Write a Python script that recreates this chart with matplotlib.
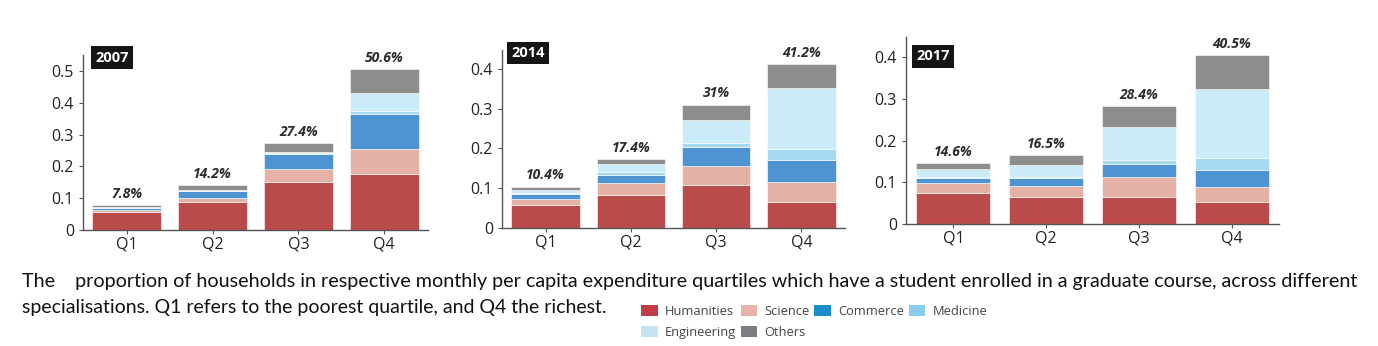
import numpy as np
import matplotlib
matplotlib.use("Agg")
import matplotlib.pyplot as plt
from matplotlib.patches import Patch

quartiles = ["Q1", "Q2", "Q3", "Q4"]
fields = ["Humanities", "Science", "Commerce", "Medicine", "Engineering", "Others"]

# share of households per quartile, split by specialisation
y2007_humanities = [0.057, 0.087, 0.150, 0.176]
y2007_science = [0.005, 0.015, 0.041, 0.079]
y2007_commerce = [0.006, 0.019, 0.047, 0.110]
y2007_medicine = [0.002, 0.002, 0.005, 0.010]
y2007_engineering = [0.002, 0.003, 0.002, 0.054]
y2007_others = [0.006, 0.016, 0.029, 0.077]
y2007_totals = [7.8, 14.2, 27.4, 50.6]

y2014_humanities = [0.057, 0.083, 0.107, 0.066]
y2014_science = [0.016, 0.030, 0.049, 0.049]
y2014_commerce = [0.012, 0.021, 0.048, 0.057]
y2014_medicine = [0.002, 0.006, 0.009, 0.027]
y2014_engineering = [0.008, 0.021, 0.059, 0.152]
y2014_others = [0.009, 0.013, 0.038, 0.061]
y2014_totals = [10.4, 17.4, 31, 41.2]

y2017_humanities = [0.074, 0.064, 0.066, 0.052]
y2017_science = [0.024, 0.028, 0.046, 0.038]
y2017_commerce = [0.013, 0.019, 0.033, 0.040]
y2017_medicine = [0.003, 0.002, 0.009, 0.028]
y2017_engineering = [0.018, 0.029, 0.080, 0.167]
y2017_others = [0.014, 0.023, 0.050, 0.080]
y2017_totals = [14.6, 16.5, 28.4, 40.5]

years = ["2007", "2014", "2017"]
bar_colors = ["#b94c4b", "#e4b1a5", "#4e94d3", "#a5daf2", "#cbebf8", "#8d8d8d"]
legend_colors = ["#c13c45", "#e7b3aa", "#1a8dcc", "#86cdee", "#c4e5f0", "#7b7d80"]

panels = [
    (years[0], [y2007_humanities, y2007_science, y2007_commerce, y2007_medicine,
                y2007_engineering, y2007_others], y2007_totals),
    (years[1], [y2014_humanities, y2014_science, y2014_commerce, y2014_medicine,
                y2014_engineering, y2014_others], y2014_totals),
    (years[2], [y2017_humanities, y2017_science, y2017_commerce, y2017_medicine,
                y2017_engineering, y2017_others], y2017_totals),
]

W, H = 1378, 346
fig = plt.figure(figsize=(W / 100, H / 100), dpi=100)

# axes boxes in pixels: left, right, bottom(zero line), top
boxes = [(83, 428, 230, 55), (502, 845, 228, 50), (906, 1279, 224, 37)]
ylims = [0.550, 0.447, 0.449]
yticks = [[0, 0.1, 0.2, 0.3, 0.4, 0.5], [0, 0.1, 0.2, 0.3, 0.4], [0, 0.1, 0.2, 0.3, 0.4]]
badge_pos = [(0.035, 0.985), (0.027, 0.983), (0.027, 0.896)]

for (l, r, b, t), ylim, ytk, bp, (year, series, totals) in zip(boxes, ylims, yticks,
                                                               badge_pos, panels):
    ax = fig.add_axes([l / W, 1 - b / H, (r - l) / W, (b - t) / H])
    x = np.arange(len(quartiles))
    bottom = np.zeros(len(quartiles))
    for vals, col in zip(series, bar_colors):
        ax.bar(x, vals, width=0.8, bottom=bottom, color=col,
               edgecolor="white", linewidth=0.4)
        bottom += np.array(vals)
    for xi, top, tot in zip(x, bottom, totals):
        lab = f"{tot:g}%"
        ax.annotate(lab, (xi, top), xytext=(0, 3), textcoords="offset points",
                    ha="center", va="bottom", fontsize=10, fontweight="bold",
                    fontstyle="italic", color="#2b2b2b", family="Open Sans")
    ax.set_xlim(-0.51, 3.51)
    ax.set_ylim(0, ylim)
    ax.set_xticks(x)
    ax.set_xticklabels(quartiles)
    ax.set_yticks(ytk)
    ax.set_yticklabels([f"{v:g}" for v in ytk])
    for s in ["top", "right"]:
        ax.spines[s].set_visible(False)
    for s in ["left", "bottom"]:
        ax.spines[s].set_color("#555555")
        ax.spines[s].set_linewidth(1.0)
    ax.tick_params(axis="both", length=3, color="#555555", labelsize=11.5,
                   labelcolor="#222222")
    ax.tick_params(axis="x", pad=2)
    for lbl in ax.get_xticklabels() + ax.get_yticklabels():
        lbl.set_family("Open Sans")
    ax.text(bp[0], bp[1], year, transform=ax.transAxes, ha="left", va="center",
            fontsize=10.5, fontweight="bold", color="white", family="Open Sans",
            bbox=dict(boxstyle="square,pad=0.3", fc="#151515", ec="none"),
            clip_on=False)

caption1 = ("The    proportion of households in respective monthly per capita expenditure "
            "quartiles which have a student enrolled in a graduate course, across different")
caption2 = "specialisations. Q1 refers to the poorest quartile, and Q4 the richest."
fig.text(22 / W, 1 - 282 / H, caption1, ha="left", va="center", fontsize=14.2,
         family="Lato", color="#111111")
fig.text(22 / W, 1 - 307 / H, caption2, ha="left", va="center", fontsize=14.0,
         family="Lato", color="#111111")

order = [0, 4, 1, 5, 2, 3]
handles = [Patch(facecolor=legend_colors[i], edgecolor="none") for i in order]
labels = [fields[i] for i in order]
leg = fig.legend(handles, labels, ncol=4, loc="upper left",
                 bbox_to_anchor=(641 / W, 1 - 305 / H), frameon=False,
                 handlelength=1.3, handleheight=0.95,
                 handletextpad=0.55, columnspacing=0.35, labelspacing=0.6,
                 borderaxespad=0, borderpad=0,
                 prop={"family": "Open Sans", "size": 9.3})
for txt in leg.get_texts():
    txt.set_color("#444444")

fig.savefig("out.png", dpi=100, facecolor="white")
